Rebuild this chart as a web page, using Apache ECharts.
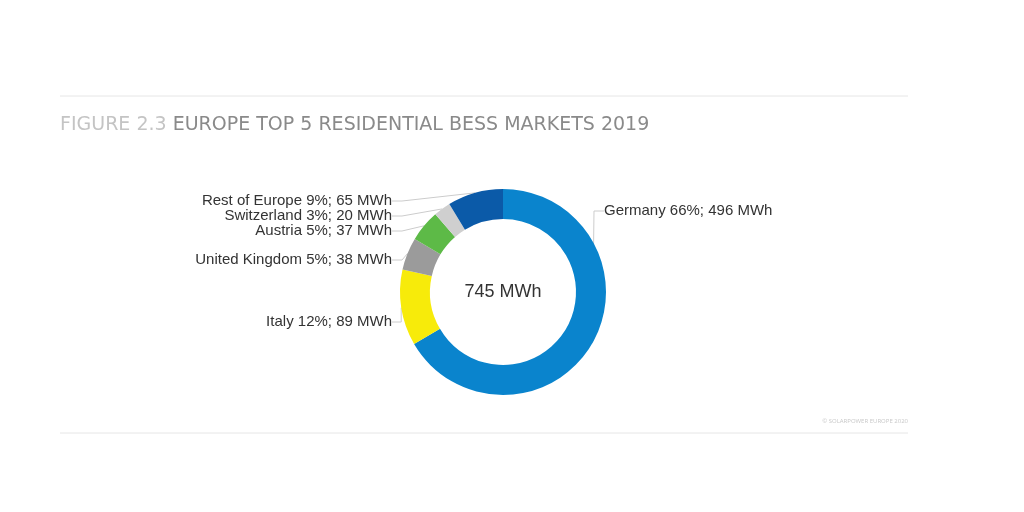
<!DOCTYPE html>
<html lang="en">
<head>
<meta charset="UTF-8">
<title>Europe top 5 residential BESS markets 2019</title>
<script src="https://cdn.jsdelivr.net/npm/echarts@6/dist/echarts.min.js"></script>
<style>
  html, body { margin: 0; padding: 0; background: #fff; }
  #chart { width: 1024px; height: 512px; }
</style>
</head>
<body>
<div id="chart"></div>
<script>
var markets = ['Germany', 'Italy', 'United Kingdom', 'Austria', 'Switzerland', 'Rest of Europe'];
var shares = [66, 12, 5, 5, 3, 9];
var mwh = [496, 89, 38, 37, 20, 65];
var colors = ['#0a84cd', '#f7eb0a', '#9b9b9b', '#5dba47', '#cfcfcf', '#0b5aa8'];
var total = 745;

// where each label sits (x, y, align)
var labelSpots = [
    [604, 211, 'left'],
    [392, 322, 'right'],
    [392, 260, 'right'],
    [392, 231, 'right'],
    [392, 216, 'right'],
    [392, 201, 'right']
];

var chart = echarts.init(document.getElementById('chart'));

var data = markets.map(function (m, i) {
    return { name: m, value: mwh[i], itemStyle: { color: colors[i] } };
});

chart.setOption({
    animation: false,
    graphic: [
        { type: 'line', shape: { x1: 60, y1: 96, x2: 908, y2: 96 }, style: { stroke: '#e6e6e6', lineWidth: 1 } },
        { type: 'line', shape: { x1: 60, y1: 433, x2: 908, y2: 433 }, style: { stroke: '#e6e6e6', lineWidth: 1 } },
        {
            type: 'text', left: 60, top: 116,
            style: {
                text: '{a|FIGURE 2.3 }{b|EUROPE TOP 5 RESIDENTIAL BESS MARKETS 2019}',
                rich: {
                    a: { fill: '#c4c4c4', font: '19px "DejaVu Sans"' },
                    b: { fill: '#8a8a8a', font: '19px "DejaVu Sans"' }
                }
            }
        },
        {
            type: 'text', right: 116, top: 418,
            style: { text: '© SOLARPOWER EUROPE 2020', fill: '#c8c8c8', font: '6px "Open Sans"' }
        },
        {
            type: 'text', x: 503, y: 292,
            style: { text: total + ' MWh', fill: '#333', font: '18px "Liberation Sans"', align: 'center', verticalAlign: 'middle' }
        }
    ],
    series: [{
        type: 'pie',
        center: [503, 292],
        radius: [73, 103],
        startAngle: 90,
        clockwise: true,
        data: data,
        label: {
            show: true,
            position: 'outside',
            color: '#333',
            fontSize: 15,
            fontFamily: 'Liberation Sans',
            formatter: function (p) {
                return p.name + ' ' + shares[p.dataIndex] + '%; ' + p.value + ' MWh';
            }
        },
        labelLine: { show: true, length: 8, length2: 10, lineStyle: { color: '#cccccc', width: 1 } },
        labelLayout: function (p) {
            var s = labelSpots[p.dataIndex];
            return { x: s[0], y: s[1], align: s[2], verticalAlign: 'middle' };
        }
    }]
});
</script>
</body>
</html>
